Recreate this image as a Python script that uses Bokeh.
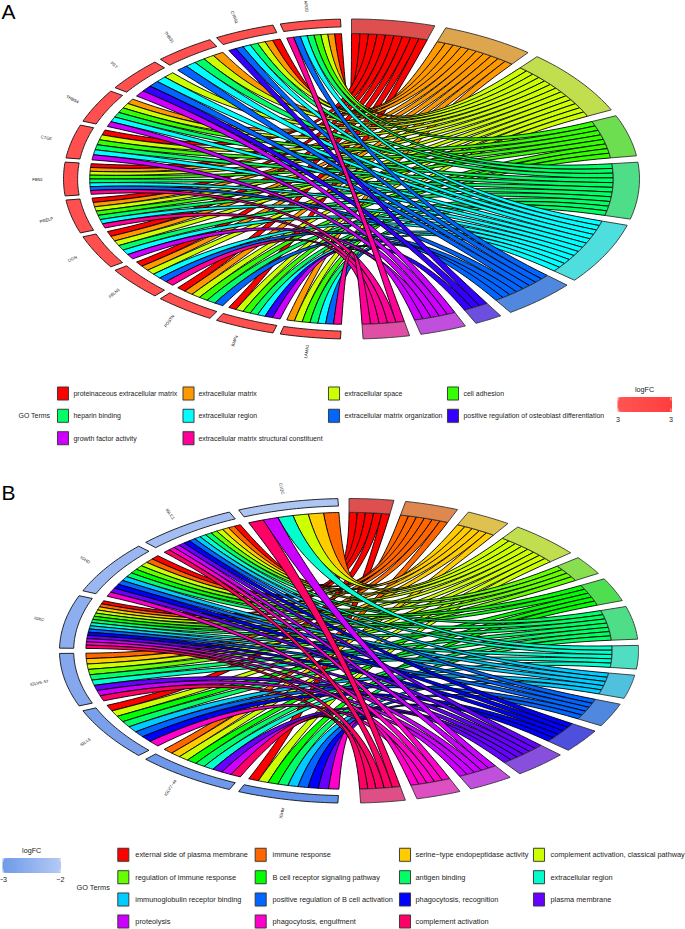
import numpy as np
from bokeh.plotting import figure
from bokeh.layouts import column
from bokeh.models import Range1d
from bokeh.core.properties import value
from bokeh.embed import file_html
from bokeh.resources import INLINE

FONT = "Liberation Sans"

# ---------- panel A data ----------
A_terms = ["proteinaceous extracellular matrix", "extracellular matrix", "extracellular space", "cell adhesion",
           "heparin binding", "extracellular region", "extracellular matrix organization",
           "positive regulation of osteoblast differentiation", "growth factor activity",
           "extracellular matrix structural constituent"]
A_colors = ["#FF0000", "#FF9900", "#CCFF00", "#33FF00", "#00FF66", "#00FFFF", "#0066FF", "#3300FF", "#CC00FF", "#FF0099"]
A_genes = ["APOD", "CYR61", "THBS1", "FST", "THBS4", "CTGF", "FBN1", "PRELP", "OGN", "FBLN1", "POSTN", "BMP4", "LAMA1"]
A_members = [
    [0, 1, 2, 3, 4, 5, 6, 9],
    [0, 1, 2, 4, 5, 6, 7],
    [1, 2, 4, 5, 6],
    [2, 5, 6, 7, 8],
    [1, 2, 3, 4, 5, 8],
    [0, 2, 3, 4, 5, 8],
    [0, 1, 2, 3, 4, 5, 6, 9],
    [0, 1, 2, 3, 4, 5, 9],
    [0, 1, 2, 4, 5, 8],
    [0, 1, 2, 5, 6, 9],
    [0, 1, 2, 3, 4, 6],
    [0, 2, 3, 4, 5, 7, 8],
    [1, 2, 3, 4, 5, 6, 9],
]
A_gene_fill = ["#FF4F4F"] * 13
A_bar = ["#FF5555", "#FF3F3F"]
A_bar_labels = ["3", "3"]

# ---------- panel B data ----------
B_terms = ["external side of plasma membrane", "immune response", "serine\u2212type endopeptidase activity",
           "complement activation, classical pathway", "regulation of immune response",
           "B cell receptor signaling pathway", "antigen binding", "extracellular region",
           "immunoglobulin receptor binding", "positive regulation of B cell activation",
           "phagocytosis, recognition", "plasma membrane", "proteolysis", "phagocytosis, engulfment",
           "complement activation"]
B_colors = ["#FF0000", "#FF6600", "#FFCC00", "#CCFF00", "#66FF00", "#00FF00", "#00FF66", "#00FFCC",
            "#00CCFF", "#0066FF", "#0000FF", "#6600FF", "#CC00FF", "#FF00CC", "#FF0066"]
B_genes = ["C1QC", "IGLC1", "IGHD", "IGKC", "IGLV6\u221257", "IGLL5", "IGLV7\u221244", "IGHM"]
B_members = [
    [1, 2, 3, 7, 12, 14],
    [0, 1, 2, 3, 4, 6, 7, 8, 9, 10, 11, 12, 13, 14],
    [0, 1, 3, 4, 5, 6, 8, 9, 10, 11, 13],
    [0, 1, 2, 3, 4, 5, 6, 7, 8, 9, 10, 11, 12, 13, 14],
    [1, 2, 3, 4, 6, 7, 11, 12, 14],
    [0, 3, 5, 6, 8, 9, 10, 13],
    [1, 2, 3, 5, 6, 7, 11, 12, 14],
    [0, 3, 5, 6, 8, 9, 10, 11, 13],
]
B_gene_fill = ["#AEC6F4", "#A4BEF3", "#9BB7F1", "#8DAEEF", "#84A7ED", "#7AA0EC", "#6E98EA", "#6391E9"]
B_bar = ["#6F9BE8", "#B5CAF6"]
B_bar_labels = ["\u22123", "\u22122"]


def mix(c, a=0.56, grey=180):
    rgb = [int(c[i:i + 2], 16) for i in (1, 3, 5)]
    return "#%02X%02X%02X" % tuple(int(round(a * v + (1 - a) * grey)) for v in rgb)


def band(t1, t2, r1, r2, n=24):
    t = np.radians(np.linspace(t1, t2, n))
    tt = np.concatenate([t, t[::-1]])
    rr = np.concatenate([np.full(n, r2), np.full(n, r1)])
    return rr * np.cos(tt), rr * np.sin(tt)


def pt(t, r=1.0):
    a = np.radians(t)
    return np.array([r * np.cos(a), r * np.sin(a)])


def bez(p0, p2, n=40):
    s = np.linspace(0, 1, n)[:, None]
    return (1 - s) ** 2 * p0 + s ** 2 * p2  # control point is the centre


def panel(height, top, cx, cy, rx, ry, terms, colors, genes, members, gene_fill,
          term_gap, gene_gap, t_start, t_end, g_start, g_end, letter, letter_y,
          rows, cols_sw, cols_tx, goterms, bar, bar_labels, bar_x, bar_y, logfc_y, lab_y, leg_size):
    # page pixels to data units of this panel
    X = lambda x: (np.asarray(x, float) - cx) / rx
    Y = lambda y: (cy - np.asarray(y, float)) / ry
    p = figure(width=685, height=height, output_backend="svg", toolbar_location=None,
               x_range=Range1d(float(X(0)), float(X(685))), y_range=Range1d(float(Y(top + height)), float(Y(top))),
               min_border=0, outline_line_color=None, background_fill_color="white", border_fill_color="white")
    p.axis.visible = False
    p.grid.visible = False

    R_RIB, R_GENE = 0.909, 0.951
    counts = [sum(i in m for m in members) for i in range(len(terms))]
    unit = (t_start - t_end - term_gap * (len(terms) - 1)) / sum(counts)
    sector = (g_end - g_start - gene_gap * (len(genes) - 1)) / len(genes)

    # gene side slots
    g_slot = {}
    for g, m in enumerate(members):
        a0 = g_start + g * (sector + gene_gap)
        w = sector / len(m)
        for k, term in enumerate(m):
            g_slot[(g, term)] = (a0 + k * w, a0 + (k + 1) * w)

    # term side
    t0 = t_start
    xs, ys, fc = [], [], []
    ring_x, ring_y, ring_c = [], [], []
    for i, term in enumerate(terms):
        ring = band(t0 - counts[i] * unit, t0, R_RIB, 1.0)
        ring_x.append(ring[0]); ring_y.append(ring[1]); ring_c.append(mix(colors[i]))
        cur = t0
        for g, m in enumerate(members):
            if i not in m:
                continue
            b_hi, b_lo = cur, cur - unit
            cur = b_lo
            a1, a2 = g_slot[(g, i)]
            arc_g = np.array([pt(a, R_RIB) for a in np.linspace(a1, a2, 8)])
            side1 = bez(pt(a2, R_RIB), pt(b_lo, R_RIB))
            arc_t = np.array([pt(b, R_RIB) for b in np.linspace(b_lo, b_hi, 4)])
            side2 = bez(pt(b_hi, R_RIB), pt(a1, R_RIB))
            poly = np.vstack([arc_g, side1, arc_t, side2])
            xs.append(poly[:, 0]); ys.append(poly[:, 1]); fc.append(colors[i])
        t0 -= counts[i] * unit + term_gap

    p.patches(xs, ys, fill_color=fc, line_color="black", line_width=0.9)
    p.patches(ring_x, ring_y, fill_color=ring_c, line_color="#333333", line_width=0.9)

    # gene ring and labels
    gx, gy, lx, ly, la = [], [], [], [], []
    for g in range(len(genes)):
        a0 = g_start + g * (sector + gene_gap)
        b = band(a0, a0 + sector, R_GENE, 1.0)
        gx.append(b[0]); gy.append(b[1])
        mid = a0 + sector / 2
        q = pt(mid, 1.09)
        lx.append(q[0]); ly.append(q[1]); la.append(np.radians(mid - 180))
    p.patches(gx, gy, fill_color=gene_fill, line_color="#111111", line_width=0.9)
    p.text(lx, ly, text=genes, angle=la, text_align="center", text_baseline="middle",
           text_font=value(FONT), text_font_size="4.2px", text_color="#111111")

    # panel letter
    p.text([float(X(1))], [float(Y(letter_y))], text=[letter], text_align="left", text_baseline="middle",
           text_font=value(FONT), text_font_size="21px", text_color="black")

    # legend
    for i, term in enumerate(terms):
        rw, cl = i // 4, i % 4
        y = rows[rw]
        sx0, sx1 = cols_sw[cl], cols_sw[cl] + 11
        p.quad(left=[float(X(sx0 - 1))], right=[float(X(sx1 + 1))], bottom=[float(Y(y + 8))], top=[float(Y(y - 8))],
               fill_color="#F0F0F0", line_color=None)
        p.quad(left=[float(X(sx0))], right=[float(X(sx1))], bottom=[float(Y(y + 6.5))], top=[float(Y(y - 6.5))],
               fill_color=colors[i], line_color="#333333", line_width=0.9)
        p.text([float(X(cols_tx[cl]))], [float(Y(y))], text=[term], text_align="left", text_baseline="middle",
               text_font=value(FONT), text_font_size=leg_size, text_color="#222222")
    p.text([float(X(goterms[0]))], [float(Y(goterms[1]))], text=["GO Terms"], text_align="left",
           text_baseline="middle", text_font=value(FONT), text_font_size=leg_size, text_color="#222222")

    # logFC colour bar
    nb = 40
    edges = np.linspace(bar_x[0], bar_x[1], nb + 1)
    c0 = np.array([int(bar[0][i:i + 2], 16) for i in (1, 3, 5)])
    c1 = np.array([int(bar[1][i:i + 2], 16) for i in (1, 3, 5)])
    shades = ["#%02X%02X%02X" % tuple(int(v) for v in c0 + (c1 - c0) * (k + .5) / nb) for k in range(nb)]
    p.quad(left=X(edges[:-1]), right=[float(X(bar_x[1]))] * nb, bottom=[float(Y(bar_y[1]))] * nb,
           top=[float(Y(bar_y[0]))] * nb, fill_color=shades, line_color=None)
    for ex in (bar_x[0] + 0.6, bar_x[1] - 0.6):
        p.segment(x0=[float(X(ex))] * 2, x1=[float(X(ex))] * 2,
                  y0=[float(Y(bar_y[0])), float(Y(bar_y[1]))],
                  y1=[float(Y(bar_y[0] + 3)), float(Y(bar_y[1] - 3))], line_color="white", line_width=0.7)
    p.text([float(X(sum(bar_x) / 2))], [float(Y(logfc_y))], text=["logFC"], text_align="center",
           text_baseline="middle", text_font=value(FONT), text_font_size="7.2px", text_color="#222222")
    p.text([float(X(bar_x[0] + 0.5)), float(X(bar_x[1] - 0.5))], [float(Y(lab_y))] * 2, text=bar_labels,
           text_align="center", text_baseline="middle", text_font=value(FONT), text_font_size="7.2px",
           text_color="#222222")
    return p


pA = panel(465, 0, 351, 178.5, 288, 160, A_terms, A_colors, A_genes, A_members, A_gene_fill,
           2.3, 1.5, 90.0, -87.7, 92.2, 267.8, "A", 11,
           [393, 415.3, 437.7], [57, 182.5, 328, 447], [73, 198, 344, 463], (18, 415.3),
           A_bar, A_bar_labels, (617, 671), (397, 411), 389, 419, "6.95px")
pB = panel(464, 465, 348.5, 650.3, 289.5, 152.3, B_terms, B_colors, B_genes, B_members, B_gene_fill,
           2.35, 2.0, 90.0, -87.7, 92.2, 267.8, "B", 492,
           [854.3, 876.7, 899, 921], [117.3, 254.7, 399, 533], [134.8, 272, 415, 550], (76, 887),
           B_bar, B_bar_labels, (2, 60.4), (858, 872), 850, 879, "7.35px")

page = column(pA, pB, spacing=0)
open("out.html", "w").write(file_html(page, INLINE))
